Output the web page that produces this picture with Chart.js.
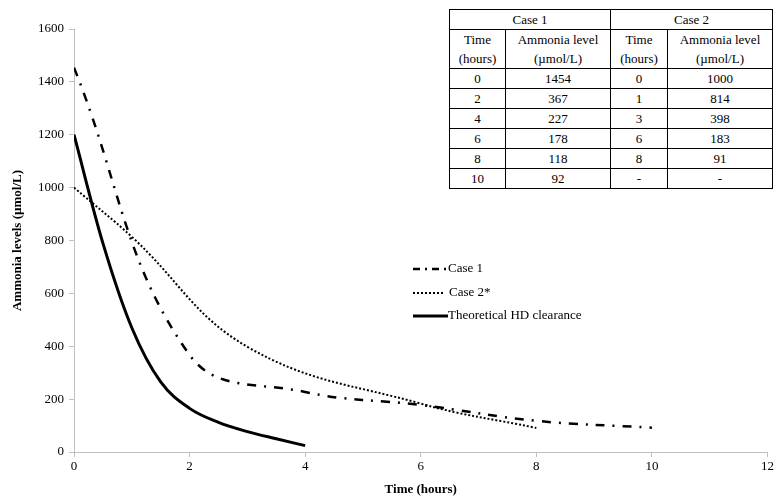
<!DOCTYPE html>
<html>
<head>
<meta charset="utf-8">
<script src="https://cdn.jsdelivr.net/npm/chart.js@4"></script>
<style>
  html, body { margin: 0; padding: 0; background: #fff; }
  #wrap { position: relative; width: 776px; height: 500px; }
  #ammoniaChart { position: absolute; left: 0; top: 0; }
  #dataTable {
    position: absolute; left: 449px; top: 9px;
    border-collapse: collapse;
    font-family: "Liberation Serif", "Times New Roman", serif; font-size: 13px; color: #000;
    background: #fff;
  }
  #dataTable td { border: 1px solid #000; text-align: center; padding: 0; line-height: 19px; }
</style>
</head>
<body>
<div id="wrap">
  <canvas id="ammoniaChart" width="776" height="500"></canvas>
  <table id="dataTable"></table>
</div>
<script>
// Case 1 (dados medidos)
const case1Time = [0, 2, 4, 6, 8, 10];
const case1Level = [1454, 367, 227, 178, 118, 92];

// Case 2*
const case2Time = [0, 1, 3, 6, 8];
const case2Level = [1000, 814, 398, 183, 91];

// Theoretical HD clearance
const hdTime = [0, 0.5, 1, 1.5, 2, 2.5, 3, 3.5, 4];
const hdLevel = [1200, 790, 470, 265, 165, 112, 77, 50, 24];

const xTicks = [0, 2, 4, 6, 8, 10, 12];
const yTicks = [0, 200, 400, 600, 800, 1000, 1200, 1400, 1600];

const serif = '"Liberation Serif", "Times New Roman", serif';

// tabela
function buildTable() {
  const t = document.getElementById('dataTable');
  const widths = [55, 104, 56, 104];
  let html = '<tr style="height:20px"><td colspan="2">Case 1</td><td colspan="2">Case 2</td></tr>';
  html += '<tr style="height:39px">' +
    widths.map((w, i) => '<td style="width:' + w + 'px">' +
      (i % 2 === 0 ? 'Time<br>(hours)' : 'Ammonia level<br>(µmol/L)') + '</td>').join('') + '</tr>';
  for (let i = 0; i < case1Time.length; i++) {
    const t2 = i < case2Time.length ? case2Time[i] : '-';
    const l2 = i < case2Level.length ? case2Level[i] : '-';
    html += '<tr style="height:19px"><td>' + case1Time[i] + '</td><td>' + case1Level[i] +
      '</td><td>' + t2 + '</td><td>' + l2 + '</td></tr>';
  }
  t.innerHTML = html;
}
buildTable();

const toPoints = (xs, ys) => xs.map((x, i) => ({ x: x, y: ys[i] }));

const styles = [
  { label: 'Case 1', dash: [7, 5, 2, 5], width: 2.5 },
  { label: 'Case 2*', dash: [2, 2], width: 2 },
  { label: 'Theoretical HD clearance', dash: [], width: 3 }
];

// legenda desenhada à mão
const legendPlugin = {
  id: 'customLegend',
  afterDraw(chart) {
    const ctx = chart.ctx;
    const rows = [269, 293, 316];
    ctx.save();
    ctx.font = '13px ' + serif;
    ctx.fillStyle = '#000';
    ctx.textBaseline = 'middle';
    styles.forEach((s, i) => {
      ctx.beginPath();
      ctx.setLineDash(s.dash);
      ctx.lineWidth = s.width;
      ctx.strokeStyle = '#000';
      ctx.moveTo(413, rows[i]);
      ctx.lineTo(i === 1 ? 443 : 448, rows[i]);
      ctx.stroke();
      ctx.fillText(s.label, i === 1 ? 449 : 448, rows[i]);
    });
    ctx.restore();
  }
};

const ctx = document.getElementById('ammoniaChart').getContext('2d');
new Chart(ctx, {
  type: 'scatter',
  data: {
    datasets: [
      {
        label: 'Case 1',
        data: toPoints(case1Time, case1Level),
        borderColor: '#000', borderWidth: 2.5, borderDash: [9, 8, 2, 8],
        showLine: true, pointRadius: 0, tension: 0.4
      },
      {
        label: 'Case 2*',
        data: toPoints(case2Time, case2Level),
        borderColor: '#000', borderWidth: 2, borderDash: [2, 2],
        showLine: true, pointRadius: 0, tension: 0.4
      },
      {
        label: 'Theoretical HD clearance',
        data: toPoints(hdTime, hdLevel),
        borderColor: '#000', borderWidth: 3,
        showLine: true, pointRadius: 0, cubicInterpolationMode: 'monotone'
      }
    ]
  },
  options: {
    responsive: false,
    animation: false,
    layout: { padding: { top: 29, right: 8, left: 0, bottom: 0 } },
    plugins: { legend: { display: false }, tooltip: { enabled: false } },
    scales: {
      x: {
        type: 'linear', min: 0, max: 12,
        afterBuildTicks: (s) => { s.ticks = xTicks.map(v => ({ value: v })); },
        afterFit: (s) => { s.height = 48; },
        border: { color: '#bfbfbf', width: 1 },
        grid: { drawOnChartArea: false, drawTicks: true, tickLength: 5, color: '#bfbfbf' },
        ticks: { color: '#000', font: { family: serif, size: 13 }, padding: 2, maxRotation: 0,
                 callback: (v) => String(v) },
        title: { display: true, text: 'Time (hours)', color: '#000',
                 font: { family: serif, size: 13, weight: 'bold' }, padding: { top: 0, bottom: 3 } }
      },
      y: {
        min: 0, max: 1600,
        afterBuildTicks: (s) => { s.ticks = yTicks.map(v => ({ value: v })); },
        afterFit: (s) => { s.width = 74; },
        border: { color: '#bfbfbf', width: 1 },
        grid: { drawOnChartArea: false, drawTicks: true, tickLength: 5, color: '#bfbfbf' },
        ticks: { color: '#000', font: { family: serif, size: 13 }, padding: 5,
                 callback: (v) => String(v) },
        title: { display: true, text: 'Ammonia levels (µmol/L)', color: '#000',
                 font: { family: serif, size: 13, weight: 'bold' }, padding: { top: 10, bottom: 0 } }
      }
    }
  },
  plugins: [legendPlugin]
});
</script>
</body>
</html>
